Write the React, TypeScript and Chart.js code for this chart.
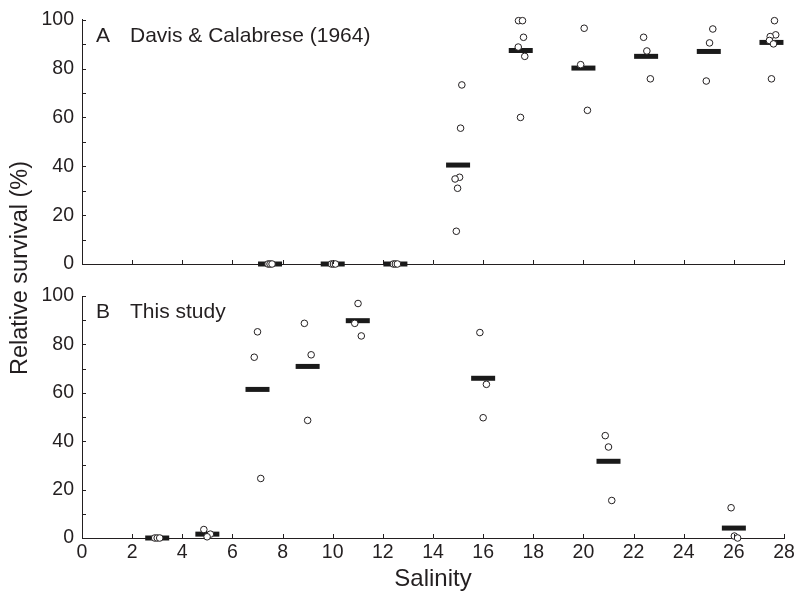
import { useEffect, useRef } from 'react';
import { Chart, registerables } from 'chart.js';
Chart.register(...registerables);

// ---- Panel A: Davis & Calabrese (1964)
const aMeanSalinity = [7.5, 10, 12.5, 15, 17.5, 20, 22.5, 25, 27.5];
const aMeanSurvival = [0, 0, 0, 40.5, 87.4, 80.2, 85.0, 87.0, 90.7];
const aPointSalinity = [
  7.42, 7.5, 7.58,
  9.95, 10.03, 10.11,
  12.42, 12.5, 12.58,
  15.15, 15.1, 15.06, 14.88, 14.98, 14.93,
  17.41, 17.57, 17.61, 17.4, 17.66, 17.49,
  20.03, 19.89, 20.16,
  22.4, 22.53, 22.67,
  25.16, 25.03, 24.9,
  27.62, 27.67, 27.45, 27.42, 27.58, 27.5,
];
const aPointSurvival = [
  0, 0, 0,
  0, 0, 0,
  0, 0, 0,
  73.3, 55.6, 35.5, 34.8, 31.0, 13.4,
  99.6, 99.6, 92.8, 88.8, 85.0, 60.0,
  96.5, 81.6, 62.9,
  92.8, 87.2, 75.8,
  96.2, 90.5, 74.9,
  99.6, 93.8, 93.1, 91.5, 90.1, 75.8,
];

// ---- Panel B: This study
const bMeanSalinity = [3, 5, 7, 9, 11, 16, 21, 26];
const bMeanSurvival = [0, 1.6, 61.4, 70.9, 89.8, 66.0, 31.7, 4.1];
const bPointSalinity = [
  2.9, 3.0, 3.1,
  4.86, 5.12, 4.99,
  7.0, 6.87, 7.13,
  8.87, 9.14, 9.0,
  11.01, 10.88, 11.14,
  15.87, 16.13, 16.0,
  20.87, 21.0, 21.13,
  25.89, 26.02, 26.15,
];
const bPointSurvival = [
  0, 0, 0,
  3.5, 1.6, 0.5,
  85.2, 74.7, 24.6,
  88.7, 75.7, 48.6,
  96.9, 88.7, 83.5,
  84.9, 63.5, 49.7,
  42.3, 37.6, 15.5,
  12.5, 0.8, 0,
];

const xMin = 0;
const xMax = 28;
const xStep = 2;
const yMin = 0;
const yMax = 100;
const yStep = 10;
const yLabelEvery = 20;

const panelA = 'A';
const panelAText = 'Davis & Calabrese (1964)';
const panelB = 'B';
const panelBText = 'This study';
const xTitle = 'Salinity';
const yTitle = 'Relative survival (%)';

const INK = '#231f20';
const FONT = "'Liberation Sans', Arial, Helvetica, sans-serif";

const zip = (xs: number[], ys: number[]) => xs.map((x, i) => ({ x, y: ys[i] }));

const inwardTicks = {
  id: 'inwardTicks',
  afterDraw(chart: any) {
    const { ctx, chartArea, scales } = chart;
    ctx.save();
    ctx.strokeStyle = INK;
    ctx.lineWidth = 1;
    ctx.beginPath();
    scales.x.ticks.forEach((t: any) => {
      const px = Math.round(scales.x.getPixelForValue(t.value)) + 0.5;
      ctx.moveTo(px, chartArea.bottom);
      ctx.lineTo(px, chartArea.bottom - 4);
    });
    scales.y.ticks.forEach((t: any) => {
      const py = Math.round(scales.y.getPixelForValue(t.value)) + 0.5;
      ctx.moveTo(chartArea.left, py);
      ctx.lineTo(chartArea.left + 4, py);
    });
    ctx.stroke();
    ctx.restore();
  },
};

const makeLabelPlugin = (letter: string, text: string, drawYTitle: boolean) => ({
  id: 'panelLabel',
  afterDraw(chart: any) {
    const { ctx, chartArea } = chart;
    ctx.save();
    ctx.fillStyle = INK;
    ctx.font = `21px ${FONT}`;
    ctx.textAlign = 'left';
    ctx.textBaseline = 'alphabetic';
    ctx.fillText(letter, chartArea.left + 14, chartArea.top + 22);
    ctx.fillText(text, chartArea.left + 48, chartArea.top + 22);
    if (drawYTitle) {
      ctx.font = `23.5px ${FONT}`;
      ctx.translate(27, 268);
      ctx.rotate(-Math.PI / 2);
      ctx.textAlign = 'center';
      ctx.fillText(yTitle, 0, 0);
    }
    ctx.restore();
  },
});

function buildConfig(
  meanX: number[], meanY: number[], ptX: number[], ptY: number[],
  top: number, bottomArea: number, showX: boolean, plugin: any,
): any {
  return {
    type: 'scatter',
    data: {
      datasets: [
        {
          label: 'replicates',
          data: zip(ptX, ptY),
          pointStyle: 'circle',
          pointRadius: 3.3,
          pointBorderWidth: 1,
          pointBorderColor: INK,
          pointBackgroundColor: '#ffffff',
          clip: false,
          order: 0,
        },
        {
          label: 'mean',
          data: zip(meanX, meanY),
          pointStyle: 'line',
          pointRadius: 12,
          pointBorderWidth: 5,
          pointBorderColor: '#1a1a1a',
          pointBackgroundColor: '#1a1a1a',
          clip: false,
          order: 1,
        },
      ],
    },
    options: {
      responsive: false,
      animation: false,
      events: [],
      layout: { padding: { left: 0, top, right: 12, bottom: showX ? 0 : 595 - bottomArea } },
      plugins: { legend: { display: false }, tooltip: { enabled: false }, title: { display: false } },
      scales: {
        x: {
          type: 'linear',
          min: xMin,
          max: xMax,
          grid: { display: false, drawTicks: false, tickLength: 0 },
          border: { display: true, color: INK, width: 1 },
          ticks: {
            display: showX,
            stepSize: xStep,
            padding: 3,
            color: INK,
            font: { family: FONT, size: 19.5 },
            maxRotation: 0,
            autoSkip: false,
          },
          title: {
            display: showX,
            text: xTitle,
            color: INK,
            font: { family: FONT, size: 24 },
            padding: { top: 0, bottom: 1 },
          },
          afterFit: (s: any) => { s.height = showX ? 595 - bottomArea : 0; },
        },
        y: {
          type: 'linear',
          min: yMin,
          max: yMax,
          grid: { display: false, drawTicks: false, tickLength: 0 },
          border: { display: true, color: INK, width: 1 },
          ticks: {
            stepSize: yStep,
            padding: 8,
            color: INK,
            font: { family: FONT, size: 19.5 },
            autoSkip: false,
            callback: (v: any) => (Number(v) % yLabelEvery === 0 ? String(v) : ''),
          },
          afterFit: (s: any) => { s.width = 82; },
        },
      },
    },
    plugins: [inwardTicks, plugin],
  };
}

export default function App() {
  const refA = useRef<HTMLCanvasElement>(null);
  const refB = useRef<HTMLCanvasElement>(null);
  useEffect(() => {
    const a = new Chart(refA.current as HTMLCanvasElement,
      buildConfig(aMeanSalinity, aMeanSurvival, aPointSalinity, aPointSurvival, 17, 264, false,
        makeLabelPlugin(panelA, panelAText, false)));
    const b = new Chart(refB.current as HTMLCanvasElement,
      buildConfig(bMeanSalinity, bMeanSurvival, bPointSalinity, bPointSurvival, 296, 538, true,
        makeLabelPlugin(panelB, panelBText, true)));
    return () => { a.destroy(); b.destroy(); };
  }, []);
  const cs: any = { position: 'absolute', left: 0, top: 0, width: 801, height: 595 };
  return (
    <div style={{ position: 'absolute', left: 0, top: 0, width: 801, height: 595, background: '#fff' }}>
      <canvas ref={refA} width={801} height={595} style={cs} />
      <canvas ref={refB} width={801} height={595} style={cs} />
    </div>
  );
}
